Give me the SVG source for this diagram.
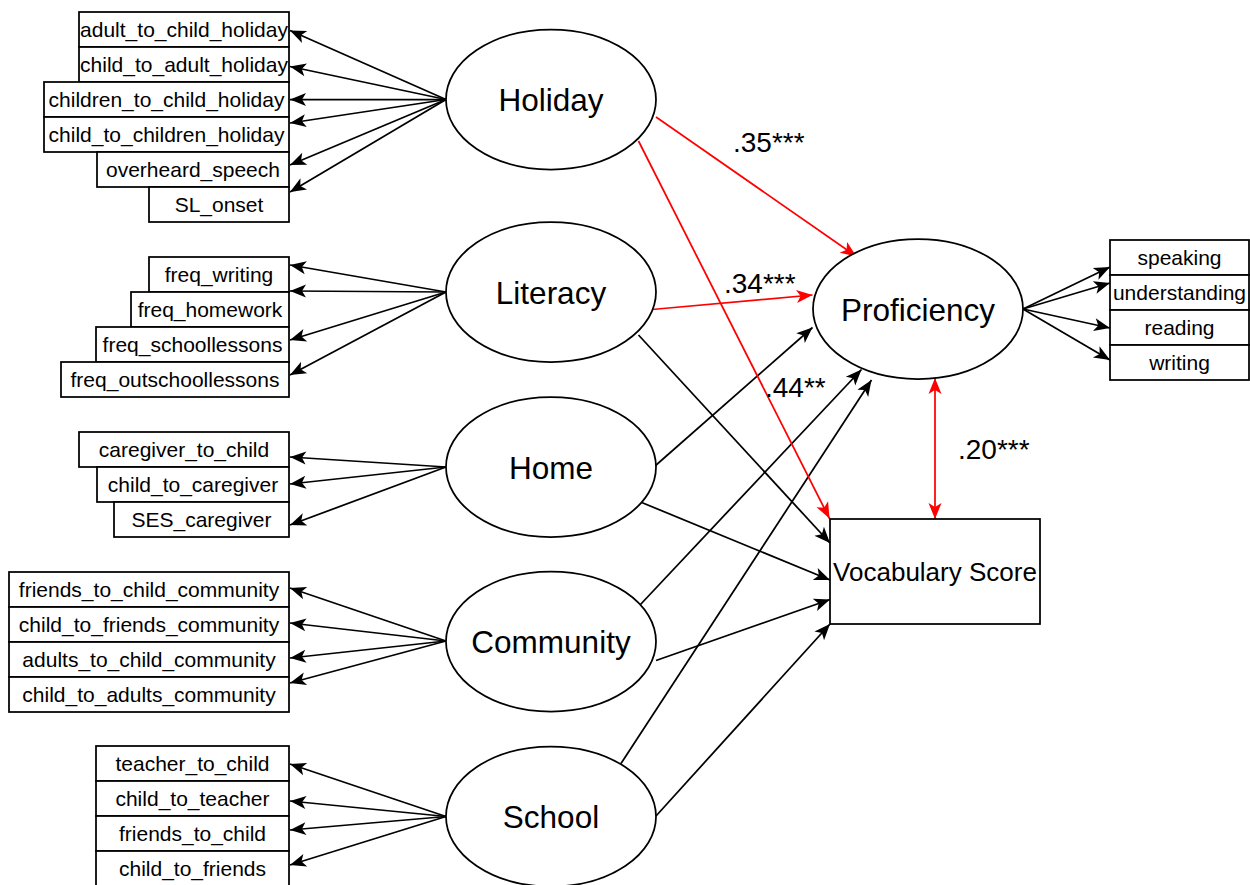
<svg xmlns="http://www.w3.org/2000/svg" width="1250" height="885" viewBox="0 0 1250 885">
<style>
.box{fill:#fff;stroke:#000;stroke-width:1.75}
.ell{fill:#fff;stroke:#000;stroke-width:1.75}
.bt{font-family:"Liberation Sans",Arial,sans-serif;font-size:21px;fill:#000;text-anchor:middle}
.lt{font-family:"Liberation Sans",Arial,sans-serif;font-size:31.5px;fill:#000;text-anchor:middle}
.vt{font-family:"Liberation Sans",Arial,sans-serif;font-size:26px;fill:#000;text-anchor:middle}
.coef{font-family:"Liberation Sans",Arial,sans-serif;font-size:28px;fill:#000}
.e{fill:none;stroke:#000;stroke-width:1.75;marker-end:url(#ab)}
.r{fill:none;stroke:#f00;stroke-width:1.75;marker-end:url(#ar)}
</style>
<defs>
<marker id="ab" viewBox="-17 -8 18 16" refX="0" refY="0" markerWidth="18" markerHeight="16" markerUnits="userSpaceOnUse" orient="auto"><path d="M-16,-6.5 L0,0 L-16,6.5 L-12,0 Z" fill="#000"/></marker>
<marker id="ar" viewBox="-17 -8 18 16" refX="0" refY="0" markerWidth="18" markerHeight="16" markerUnits="userSpaceOnUse" orient="auto-start-reverse"><path d="M-16,-6.5 L0,0 L-16,6.5 L-12,0 Z" fill="#f00"/></marker>
</defs>
<rect width="1250" height="885" fill="#fff"/>

<g id="connectors">
<!-- Holiday indicators -->
<line class="e" x1="446" y1="99.5" x2="290" y2="30.5"/>
<line class="e" x1="446" y1="99.5" x2="290" y2="66.5"/>
<line class="e" x1="446" y1="99.5" x2="290" y2="99.5"/>
<line class="e" x1="446" y1="99.5" x2="290" y2="123"/>
<line class="e" x1="446" y1="99.5" x2="290" y2="165"/>
<line class="e" x1="446" y1="99.5" x2="290" y2="192"/>
<!-- Literacy indicators -->
<line class="e" x1="446" y1="292" x2="290" y2="265"/>
<line class="e" x1="446" y1="292" x2="290" y2="291"/>
<line class="e" x1="446" y1="292" x2="290" y2="340"/>
<line class="e" x1="446" y1="292" x2="290" y2="375"/>
<!-- Home indicators -->
<line class="e" x1="446" y1="467" x2="290" y2="457"/>
<line class="e" x1="446" y1="467" x2="290" y2="484"/>
<line class="e" x1="446" y1="467" x2="290" y2="525"/>
<!-- Community indicators -->
<line class="e" x1="446" y1="641" x2="290" y2="588"/>
<line class="e" x1="446" y1="641" x2="290" y2="623"/>
<line class="e" x1="446" y1="641" x2="290" y2="658"/>
<line class="e" x1="446" y1="641" x2="290" y2="683"/>
<!-- School indicators -->
<line class="e" x1="446" y1="816.5" x2="290" y2="764"/>
<line class="e" x1="446" y1="816.5" x2="290" y2="801"/>
<line class="e" x1="446" y1="816.5" x2="290" y2="830"/>
<line class="e" x1="446" y1="816.5" x2="290" y2="865"/>
<!-- Proficiency indicators -->
<line class="e" x1="1023" y1="309" x2="1110" y2="267"/>
<line class="e" x1="1023" y1="309" x2="1110" y2="283"/>
<line class="e" x1="1023" y1="309" x2="1110" y2="328"/>
<line class="e" x1="1023" y1="309" x2="1110" y2="360"/>
<!-- structural paths -->
<line class="e" x1="638.5" y1="335" x2="830" y2="543"/>
<line class="e" x1="655" y1="466" x2="812.5" y2="327.5"/>
<line class="e" x1="640.5" y1="502" x2="830" y2="580"/>
<line class="e" x1="640" y1="605" x2="861.5" y2="369.5"/>
<line class="e" x1="656" y1="660.5" x2="830" y2="599.5"/>
<line class="e" x1="621" y1="763.5" x2="871.5" y2="380"/>
<line class="e" x1="656" y1="816" x2="830" y2="624"/>
<!-- red paths -->
<line class="r" x1="656" y1="117" x2="856.5" y2="256.5"/>
<line class="r" x1="652" y1="309.5" x2="812.5" y2="295"/>
<line class="r" x1="638.5" y1="141" x2="829.5" y2="518.5"/>
<line class="r" x1="935" y1="378" x2="935" y2="519" style="marker-start:url(#ar)"/>
</g>

<g id="coefficients">
<text class="coef" x="733" y="152">.35***</text>
<text class="coef" x="724" y="293">.34***</text>
<text class="coef" x="765" y="397">.44**</text>
<text class="coef" x="958" y="459">.20***</text>
</g>

<g id="holiday-indicators">
<rect class="box" x="79" y="12" width="210" height="35"/><text class="bt" x="184" y="37">adult_to_child_holiday</text>
<rect class="box" x="79" y="47" width="210" height="35"/><text class="bt" x="184" y="72">child_to_adult_holiday</text>
<rect class="box" x="44" y="82" width="245" height="35"/><text class="bt" x="166.5" y="107">children_to_child_holiday</text>
<rect class="box" x="44" y="117" width="245" height="35"/><text class="bt" x="166.5" y="142">child_to_children_holiday</text>
<rect class="box" x="97" y="152" width="192" height="35"/><text class="bt" x="193" y="177">overheard_speech</text>
<rect class="box" x="149" y="187" width="140" height="35"/><text class="bt" x="219" y="212">SL_onset</text>
</g>
<g id="literacy-indicators">
<rect class="box" x="149" y="257" width="140" height="35"/><text class="bt" x="219" y="282">freq_writing</text>
<rect class="box" x="131" y="292" width="158" height="35"/><text class="bt" x="210" y="317">freq_homework</text>
<rect class="box" x="96" y="327" width="193" height="35"/><text class="bt" x="192.5" y="352">freq_schoollessons</text>
<rect class="box" x="61" y="362" width="228" height="35"/><text class="bt" x="175" y="387">freq_outschoollessons</text>
</g>
<g id="home-indicators">
<rect class="box" x="79" y="432" width="210" height="35"/><text class="bt" x="184" y="457">caregiver_to_child</text>
<rect class="box" x="97" y="467" width="192" height="35"/><text class="bt" x="193" y="492">child_to_caregiver</text>
<rect class="box" x="114" y="502" width="175" height="35"/><text class="bt" x="201.5" y="527">SES_caregiver</text>
</g>
<g id="community-indicators">
<rect class="box" x="9" y="572" width="280" height="35"/><text class="bt" x="149" y="597">friends_to_child_community</text>
<rect class="box" x="9" y="607" width="280" height="35"/><text class="bt" x="149" y="632">child_to_friends_community</text>
<rect class="box" x="9" y="642" width="280" height="35"/><text class="bt" x="149" y="667">adults_to_child_community</text>
<rect class="box" x="9" y="677" width="280" height="35"/><text class="bt" x="149" y="702">child_to_adults_community</text>
</g>
<g id="school-indicators">
<rect class="box" x="96" y="746" width="193" height="35"/><text class="bt" x="192.5" y="771">teacher_to_child</text>
<rect class="box" x="96" y="781" width="193" height="35"/><text class="bt" x="192.5" y="806">child_to_teacher</text>
<rect class="box" x="96" y="816" width="193" height="35"/><text class="bt" x="192.5" y="841">friends_to_child</text>
<rect class="box" x="96" y="851" width="193" height="35"/><text class="bt" x="192.5" y="876">child_to_friends</text>
</g>
<g id="proficiency-indicators">
<rect class="box" x="1110" y="240" width="139" height="35"/><text class="bt" x="1179.5" y="265">speaking</text>
<rect class="box" x="1110" y="275" width="139" height="35"/><text class="bt" x="1179.5" y="300">understanding</text>
<rect class="box" x="1110" y="310" width="139" height="35"/><text class="bt" x="1179.5" y="335">reading</text>
<rect class="box" x="1110" y="345" width="139" height="35"/><text class="bt" x="1179.5" y="370">writing</text>
</g>

<g id="holiday"><ellipse class="ell" cx="551" cy="99.5" rx="105" ry="70"/><text class="lt" x="551" y="111">Holiday</text></g>
<g id="literacy"><ellipse class="ell" cx="551" cy="292" rx="105" ry="70"/><text class="lt" x="551" y="304">Literacy</text></g>
<g id="home"><ellipse class="ell" cx="551" cy="467" rx="105" ry="70"/><text class="lt" x="551" y="479">Home</text></g>
<g id="community"><ellipse class="ell" cx="551" cy="641.5" rx="105" ry="70"/><text class="lt" x="551" y="653">Community</text></g>
<g id="school"><ellipse class="ell" cx="551" cy="816.5" rx="105" ry="70"/><text class="lt" x="551" y="828">School</text></g>
<g id="proficiency"><ellipse class="ell" cx="918" cy="309" rx="105" ry="70"/><text class="lt" x="918" y="321">Proficiency</text></g>
<g id="vocabulary"><rect class="box" x="830" y="519" width="210" height="105"/><text class="vt" x="935" y="581">Vocabulary Score</text></g>
</svg>
